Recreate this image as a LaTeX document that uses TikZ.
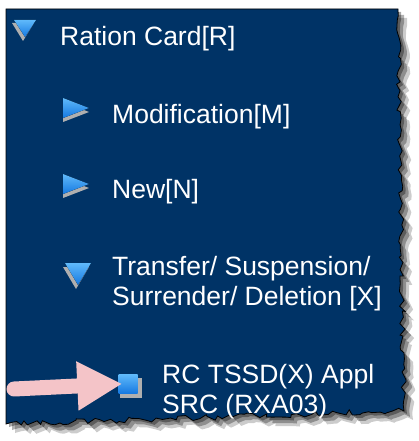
\documentclass[tikz,border=0pt]{standalone}
\usepackage{fontspec}
\setmainfont{Liberation Sans}
\usetikzlibrary{arrows.meta,decorations.pathmorphing}

\definecolor{panelblue}{RGB}{0,51,102}
\definecolor{arrowpink}{RGB}{244,196,200}
\definecolor{iconblue}{RGB}{20,120,225}
\definecolor{iconlight}{RGB}{95,185,250}
\definecolor{icongray}{RGB}{175,175,175}

\tikzset{
  torn/.style={decoration={random steps,segment length=5pt,amplitude=3pt}},
  menuitem/.style={anchor=base west,inner sep=0pt,text=white,align=left,
    font=\fontsize{26.5}{30}\selectfont},
  iconfill/.style={top color=iconlight,bottom color=iconblue,draw=none},
  iconshade/.style={fill=icongray,draw=none},
  pointer/.style={draw=arrowpink,line width=15pt,line cap=round,
    -{Triangle[length=45pt,width=46pt]}},
}

\def\tornpanel{(6,9) -- (398,9) decorate[torn]{-- (404,411)} decorate[torn]{-- (6,424)} -- cycle}

\begin{document}
\begin{tikzpicture}[x=1pt,y=-1pt]
  \useasboundingbox[fill=white] (0,0) rectangle (419,441);
  % shadow of the torn panel
  \foreach \s/\o in {3/0.35,6/0.3,9/0.2} {
    \pgfmathsetseed{11}
    \fill[black,opacity=\o,shift={(\s,\s)}] \tornpanel;
  }
  \pgfmathsetseed{11}
  \filldraw[fill=panelblue,draw=black,line width=0.8pt] \tornpanel;

  % icons
  \fill[iconshade] (12,23) -- (34,23) -- (23,41) -- cycle;
  \fill[iconfill] (14,20) -- (36,20) -- (25,37) -- cycle;
  \fill[iconshade] (63,102) -- (89,112) -- (63,122) -- cycle;
  \fill[iconfill] (63,98) -- (89,108) -- (63,118) -- cycle;
  \fill[iconshade] (63,178) -- (89,188) -- (63,198) -- cycle;
  \fill[iconfill] (63,174) -- (89,184) -- (63,194) -- cycle;
  \fill[iconshade] (63,267) -- (89,267) -- (76,289) -- cycle;
  \fill[iconfill] (65,263) -- (91,263) -- (78,285) -- cycle;
  \fill[iconshade] (120,378) rectangle (142,398);
  \node[iconfill,minimum size=19pt,inner sep=0pt] (rcicon) at (128,384) {};

  % menu entries
  \node[menuitem] (ration) at (60,46) {Ration Card[R]};
  \node[menuitem] (modif) at (112,123) {Modification[M]};
  \node[menuitem] (newitem) at (112,198) {New[N]};
  \node[menuitem] (transfer) at (112,305) {Transfer/ Suspension/\\Surrender/ Deletion [X]};
  \node[menuitem] (rcappl) at (162,413) {RC TSSD(X) Appl\\SRC (RXA03)};

  % pointer
  \coordinate (tail) at (14,389);
  \draw[pointer,shorten >=-4pt] (tail) -- (rcicon.west);
\end{tikzpicture}
\end{document}
